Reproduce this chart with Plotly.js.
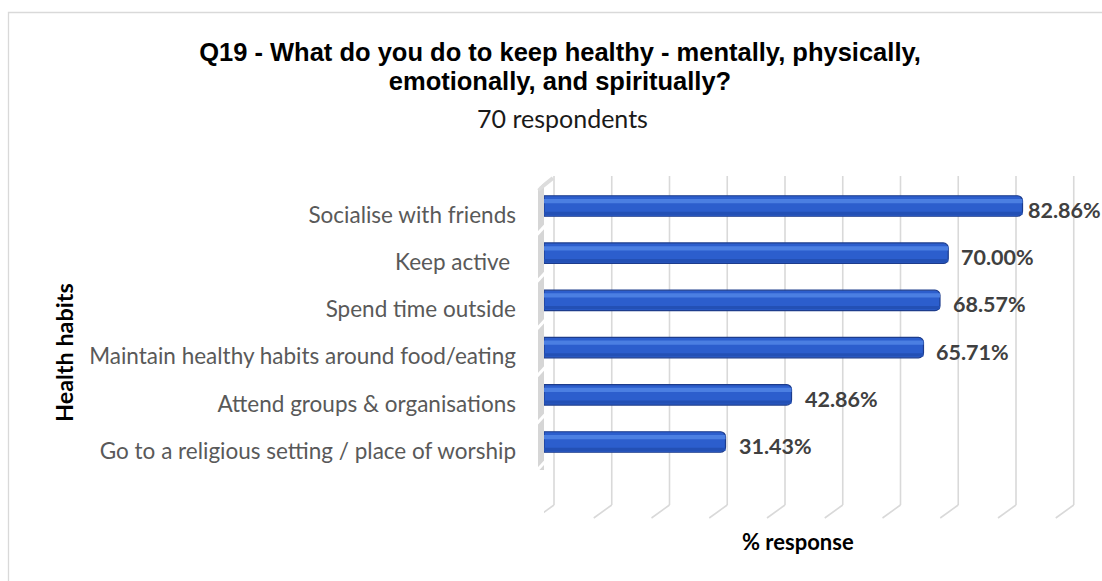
<!DOCTYPE html>
<html>
<head>
<meta charset="utf-8">
<script src="https://cdn.plot.ly/plotly-3.0.1.min.js"></script>
<style>html,body{margin:0;padding:0;background:#fff;}#chart{width:1102px;height:581px;}</style>
</head>
<body>
<div id="chart"></div>
<script>
// ---- data (bottom to top) ----
const categories = [
  "Go to a religious setting / place of worship",
  "Attend groups & organisations",
  "Maintain healthy habits around food/eating",
  "Spend time outside",
  "Keep active ",
  "Socialise with friends"
];
const values = [31.43, 42.86, 65.71, 68.57, 70.00, 82.86];
const gridTicks = [0, 10, 20, 30, 40, 50, 60, 70, 80, 90];
const titleLines = ["Q19 - What do you do to keep healthy - mentally, physically,", "emotionally, and spiritually?"];
const subtitleText = "70 respondents";
const xTitle = "% response";
const yTitle = "Health habits";

// ---- layout geometry ----
const W = 1102, H = 581;
const M = {l: 544, r: 0, t: 176, b: 76};
const PW = W - M.l - M.r, PH = H - M.t - M.b;
const XSCALE = 5.775; // px per percent
const yRange = [-1.335, 5.636];
const labelShift = 0.19;
const px = x => (x - M.l) / PW;
const py = y => (H - M.b - y) / PH;
const catPix = i => (H - M.b) - (i - yRange[0]) / (yRange[1] - yRange[0]) * PH;

const FONT = "Lato, 'Open Sans', sans-serif";
const TITLE_FONT = "'Liberation Sans', Arial, sans-serif";

const traces = [
  {type: 'bar', orientation: 'h', x: values, y: categories, width: 0.434,
   marker: {color: '#2c5ecd', line: {color: '#1d3c8c', width: 1.2}, cornerradius: 5},
   hoverinfo: 'skip', showlegend: false},
  {type: 'bar', orientation: 'h', x: values, y: categories, width: 0.09, offset: 0.06,
   marker: {color: '#4b7fe2', line: {width: 0}},
   hoverinfo: 'skip', showlegend: false},
  {type: 'bar', orientation: 'h', x: values, y: categories, width: 0.07, offset: -0.19,
   marker: {color: '#2350b5', line: {width: 0}},
   hoverinfo: 'skip', showlegend: false},
  {type: 'scatter', x: [], y: [], yaxis: 'y2', hoverinfo: 'skip', showlegend: false}
];

const shapes = [];
// outer chart border
shapes.push({type: 'rect', xref: 'paper', yref: 'paper', x0: px(8.5), x1: px(1120), y0: py(12.5), y1: py(600),
  line: {color: '#d9d9d9', width: 1.3}, layer: 'below'});
// back-wall gridlines + floor diagonals
gridTicks.forEach(t => {
  shapes.push({type: 'line', xref: 'x', xsizemode: 'pixel', xanchor: t, x0: 10, x1: 10,
    yref: 'paper', y0: 0, y1: 1, line: {color: '#d9d9d9', width: 1.6}, layer: 'below'});
  shapes.push({type: 'line', xref: 'x', xsizemode: 'pixel', xanchor: t, x0: 10, x1: -8,
    yref: 'paper', y0: 0, y1: py(518), line: {color: '#d9d9d9', width: 1.6}, layer: 'below'});
});
// left side wall
shapes.push({type: 'line', xref: 'paper', yref: 'paper', x0: px(541), x1: px(541), y0: py(186), y1: py(470),
  line: {color: '#d6d6d6', width: 6}, layer: 'below'});
shapes.push({type: 'line', xref: 'paper', yref: 'paper', x0: px(538), x1: px(553), y0: py(190), y1: py(178),
  line: {color: '#dcdcdc', width: 4}, layer: 'below'});
for (let i = -1; i < categories.length; i++) {
  const g = catPix(i + 0.5);
  shapes.push({type: 'line', xref: 'paper', yref: 'paper', x0: px(536), x1: px(547), y0: py(g + 6), y1: py(g - 6),
    line: {color: '#ffffff', width: 3}, layer: 'below'});
}

const annotations = [];
values.forEach((v, i) => {
  const room = W - 4 - (M.l + v * XSCALE) - 72;
  annotations.push({x: v, y: categories[i], xref: 'x', yref: 'y', xanchor: 'left', yanchor: 'middle',
    xshift: Math.min(11, room), yshift: -4, showarrow: false, text: v.toFixed(2) + '%',
    font: {family: FONT, size: 21.5, color: '#404040', weight: 'bold'}});
});
annotations.push({xref: 'paper', yref: 'paper', x: px(562), y: py(118), xanchor: 'center', yanchor: 'middle',
  showarrow: false, text: subtitleText, font: {family: FONT, size: 25, color: '#1a1a1a'}});
annotations.push({xref: 'paper', yref: 'paper', x: px(798), y: py(541), xanchor: 'center', yanchor: 'middle',
  showarrow: false, text: '<b>' + xTitle + '</b>', font: {family: FONT, size: 22, color: '#000'}});
annotations.push({xref: 'paper', yref: 'paper', x: px(64), y: py(353), xanchor: 'center', yanchor: 'middle',
  textangle: -90, showarrow: false, text: '<b>' + yTitle + '</b>', font: {family: FONT, size: 23.4, color: '#000'}});

const titleHtml = titleLines.map(l => '<span style="font-size:25.5px">' + l + '</span>').join('<br>');

const layout = {
  width: W, height: H,
  margin: M,
  paper_bgcolor: '#ffffff', plot_bgcolor: 'rgba(0,0,0,0)',
  barmode: 'overlay',
  showlegend: false,
  title: {text: '<b>' + titleHtml + '</b>', xref: 'container', yref: 'container',
    x: 560 / W, xanchor: 'center', y: 1 - 61 / H, yanchor: 'middle',
    font: {family: TITLE_FONT, size: 22, color: '#000'}},
  xaxis: {range: [0, PW / XSCALE], showgrid: false, zeroline: false, showline: false,
    showticklabels: false, ticks: '', automargin: false, fixedrange: true},
  yaxis: {type: 'category', range: yRange, showgrid: false, zeroline: false, showline: false,
    showticklabels: false, ticks: '', automargin: false, fixedrange: true},
  yaxis2: {type: 'linear', overlaying: 'y', side: 'left', anchor: 'x',
    range: [yRange[0] + labelShift, yRange[1] + labelShift],
    tickmode: 'array', tickvals: categories.map((c, i) => i), ticktext: categories,
    showgrid: false, zeroline: false, showline: false, ticks: '', ticklabelstandoff: 27,
    tickfont: {family: FONT, size: 22.5, color: '#595959'}, automargin: false, fixedrange: true},
  shapes: shapes,
  annotations: annotations
};

Plotly.newPlot('chart', traces, layout, {displayModeBar: false, staticPlot: true});
</script>
</body>
</html>
